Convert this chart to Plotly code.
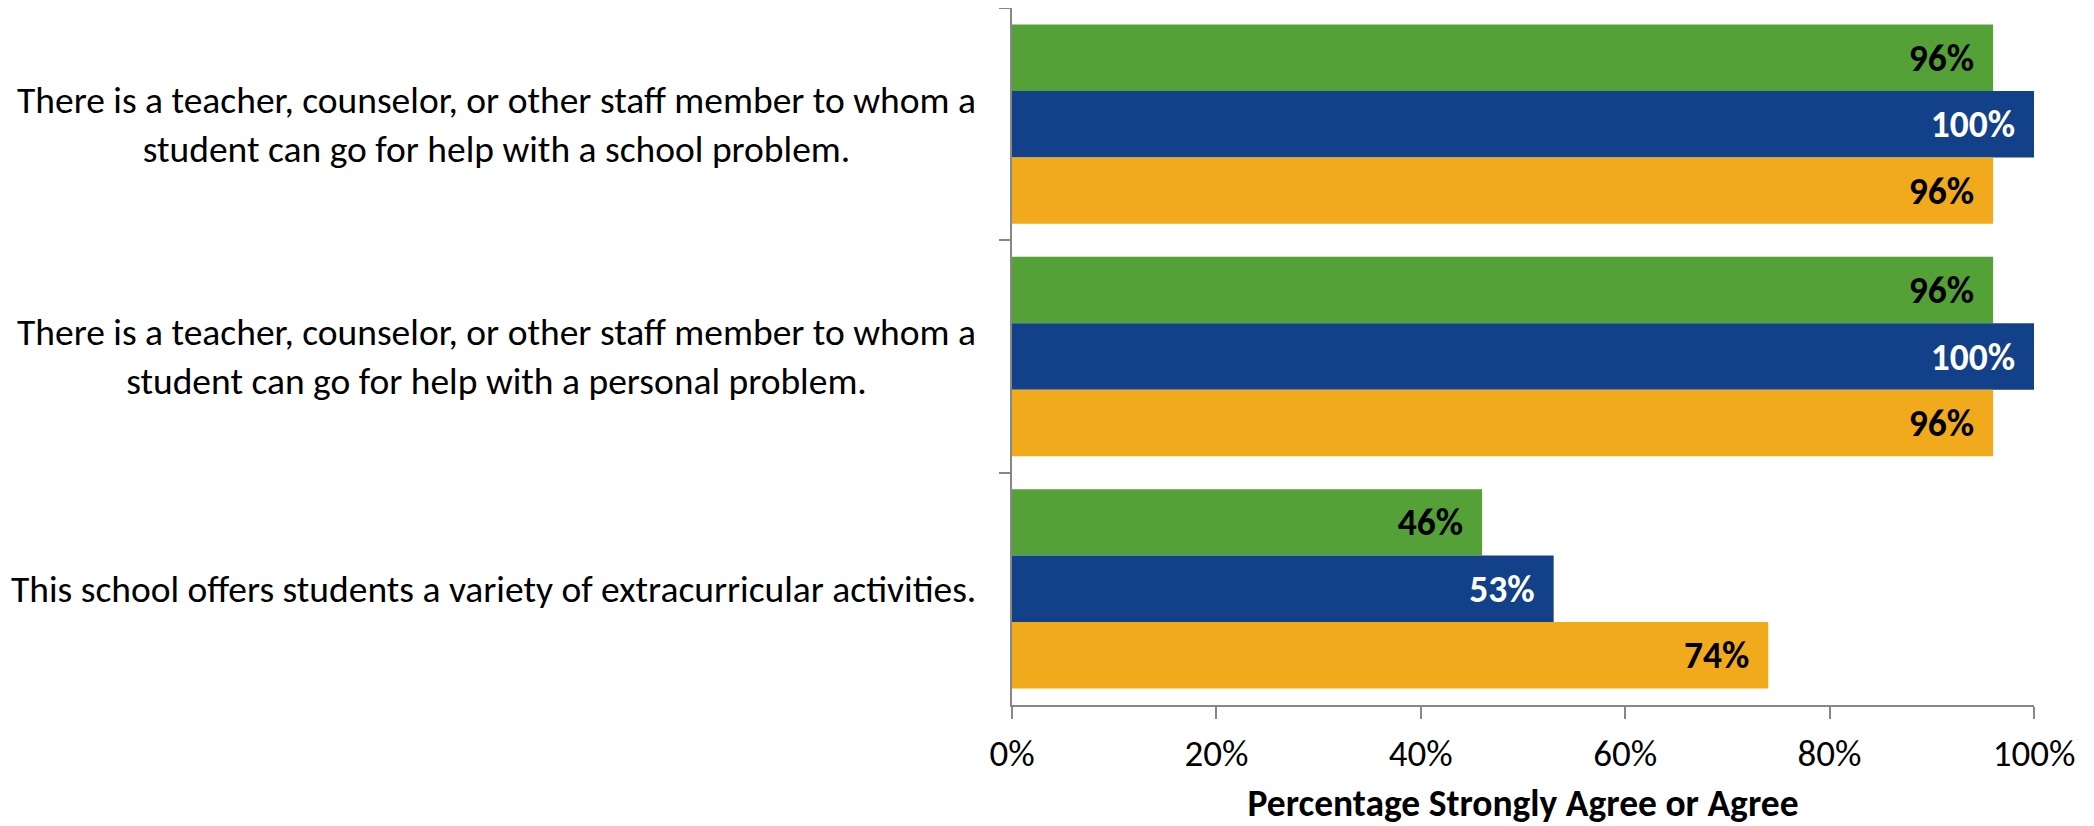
import plotly.graph_objects as go

categories = [
    "There is a teacher, counselor, or other staff member to whom a<br>student can go for help with a school problem.",
    "There is a teacher, counselor, or other staff member to whom a<br>student can go for help with a personal problem.",
    "This school offers students a variety of extracurricular activities.",
]
cat_keys = ["Q1", "Q2", "Q3"]
series_names = ["Series 1", "Series 2", "Series 3"]
series_values = [
    [0.96, 0.96, 0.46],
    [1.00, 1.00, 0.53],
    [0.96, 0.96, 0.74],
]
series_colors = ["#54A137", "#134189", "#F0AA1C"]
label_colors = ["#000000", "#FFFFFF", "#000000"]
x_ticks = [0, 0.2, 0.4, 0.6, 0.8, 1.0]
x_title = "Percentage Strongly Agree or Agree"

FONT = "Carlito, Lato, sans-serif"

fig = go.Figure()
for name, vals, col, lcol in zip(series_names, series_values, series_colors, label_colors):
    fig.add_trace(go.Bar(
        y=cat_keys, x=vals, name=name, orientation="h",
        marker=dict(color=col, line=dict(width=0)),
        texttemplate="<b>%{x:.0%}</b>\u00a0\u2009",
        textposition="inside", insidetextanchor="end",
        textangle=0, constraintext="none",
        insidetextfont=dict(family=FONT, size=37.5, color=lcol),
        showlegend=False,
    ))

for key, text in zip(cat_keys, categories):
    fig.add_annotation(
        x=0, xref="paper", y=key, yref="y", xanchor="right", xshift=-34,
        text=text, showarrow=False, align="center",
        font=dict(family=FONT, size=37.5, color="#000000"),
    )

# page body adds an 8px offset, so the figure is 8px smaller and shifted
fig.update_layout(
    width=2086, height=818,
    margin=dict(l=1004, r=60, t=0, b=121, autoexpand=False),
    barmode="group", bargap=0.142, bargroupgap=0,
    plot_bgcolor="white", paper_bgcolor="white",
    font=dict(family=FONT, color="#000000"),
)
fig.update_xaxes(
    automargin=False,
    range=[0, 1], tickvals=x_ticks, tickformat=".0%",
    showgrid=False, zeroline=False,
    showline=True, linecolor="#878787", linewidth=2,
    ticks="outside", ticklen=12, tickwidth=2, tickcolor="#878787",
    tickfont=dict(family=FONT, size=37, color="#000000"),
    ticklabelstandoff=3,
    title=dict(text="<b>" + x_title + "</b>", font=dict(family=FONT, size=37.5, color="#000000"), standoff=35),
)
fig.update_yaxes(
    automargin=False,
    type="category", categoryorder="array", categoryarray=cat_keys,
    autorange="reversed", showticklabels=False,
    showgrid=False, zeroline=False,
    showline=True, linecolor="#878787", linewidth=2,
    ticks="outside", ticklen=11, tickwidth=2, tickcolor="#878787",
    tickson="boundaries",
)

fig.write_html("out.html")
